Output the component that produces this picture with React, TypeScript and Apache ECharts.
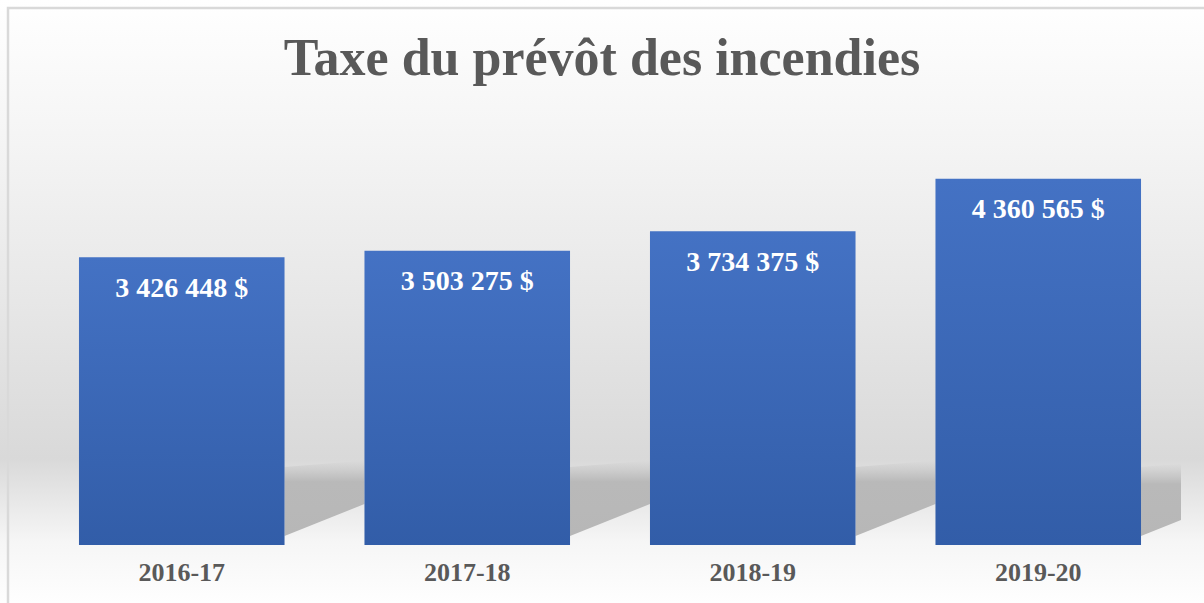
import React, { useEffect, useRef } from "react";
import * as echarts from "echarts";

const categories = ["2016-17", "2017-18", "2018-19", "2019-20"];
const values = [3426448, 3503275, 3734375, 4360565];
const titleText = "Taxe du prévôt des incendies";
const axisMax = 5000000;

const FONT = "'Liberation Serif', 'Times New Roman', serif";

function fmt(v: number): string {
  return v.toString().replace(/\B(?=(\d{3})+(?!\d))/g, " ") + " $";
}

export default function App() {
  const ref = useRef<HTMLDivElement>(null);
  useEffect(() => {
    if (!ref.current) return;
    const chart = echarts.init(ref.current, null, { renderer: "svg" });
    const W = 1204;
    const H = 603;
    const baseGraphics: any[] = [
      {
        id: "bg",
        type: "rect",
        z: -100,
        silent: true,
        shape: { x: 0, y: 0, width: W, height: H },
        style: {
          fill: new echarts.graphic.LinearGradient(0, 0, 0, 1, [
            { offset: 0, color: "#ffffff" },
            { offset: 0.2, color: "#f6f6f6" },
            { offset: 0.5, color: "#e7e7e7" },
            { offset: 0.76, color: "#d9d9d9" },
            { offset: 0.9, color: "#f6f6f6" },
            { offset: 1, color: "#fefefe" },
          ]),
        },
      },
      {
        id: "border",
        type: "rect",
        z: -50,
        silent: true,
        shape: { x: 8, y: 8, width: W + 20, height: H + 20 },
        style: { fill: "none", stroke: "#d9d9d9", lineWidth: 2.5 },
      },
    ];
    const option: any = {
      animation: false,
      title: {
        text: titleText,
        left: "center",
        top: 26,
        textStyle: {
          fontFamily: FONT,
          fontWeight: "bold",
          fontSize: 52,
          color: "#595959",
        },
      },
      grid: { left: 39, right: 23, top: 125, bottom: 58, containLabel: false },
      xAxis: {
        type: "category",
        data: categories,
        axisLine: { show: false },
        axisTick: { show: false },
        axisLabel: {
          margin: 14,
          fontFamily: FONT,
          fontWeight: "bold",
          fontSize: 26,
          color: "#595959",
        },
      },
      yAxis: {
        type: "value",
        min: 0,
        max: axisMax,
        show: false,
        splitLine: { show: false },
      },
      series: [
        {
          type: "bar",
          data: values,
          barWidth: "72%",
          z: 2,
          itemStyle: {
            color: new echarts.graphic.LinearGradient(0, 0, 0, 1, [
              { offset: 0, color: "#4472C4" },
              { offset: 1, color: "#325DA8" },
            ]),
          },
          label: {
            show: true,
            position: "insideTop",
            distance: 16,
            formatter: (p: any) => fmt(p.value),
            color: "#ffffff",
            fontFamily: FONT,
            fontWeight: "bold",
            fontSize: 28,
          },
        },
      ],
      graphic: { elements: baseGraphics },
    };
    chart.setOption(option);

    // floor shadows, placed from the chart's own scales
    const floorY = chart.convertToPixel({ yAxisIndex: 0 }, 0) as number;
    const centers = categories.map(
      (_, i) => chart.convertToPixel({ xAxisIndex: 0 }, i) as number
    );
    const band = centers.length > 1 ? centers[1] - centers[0] : 200;
    const half = band * 0.36;
    const gridRight = centers[centers.length - 1] + band / 2;
    const shadows: any[] = [];
    centers.forEach((c, i) => {
      const x0 = c + half;
      const x1 = i < centers.length - 1 ? centers[i + 1] - half : gridRight;
      const w = x1 - x0;
      const slope = 0.4;
      shadows.push({
        id: "sh" + i,
        type: "polygon",
        z: 1,
        silent: true,
        shape: {
          points: [
            [x0, floorY - 78],
            [x1, floorY - 78 - w * 0.08],
            [x1, floorY - 9 - w * slope],
            [x0, floorY - 9],
          ],
        },
        style: {
          fill: new echarts.graphic.LinearGradient(0, 0, 0, 1, [
            { offset: 0, color: "rgba(185,185,185,0)" },
            { offset: 0.28, color: "rgba(185,185,185,1)" },
            { offset: 1, color: "rgba(183,183,183,1)" },
          ]),
        },
      });
    });
    chart.setOption({ graphic: { elements: [...baseGraphics, ...shadows] } });

    return () => chart.dispose();
  }, []);
  return (
    <div
      ref={ref}
      style={{ position: "absolute", left: 0, top: 0, width: 1204, height: 603 }}
    />
  );
}
